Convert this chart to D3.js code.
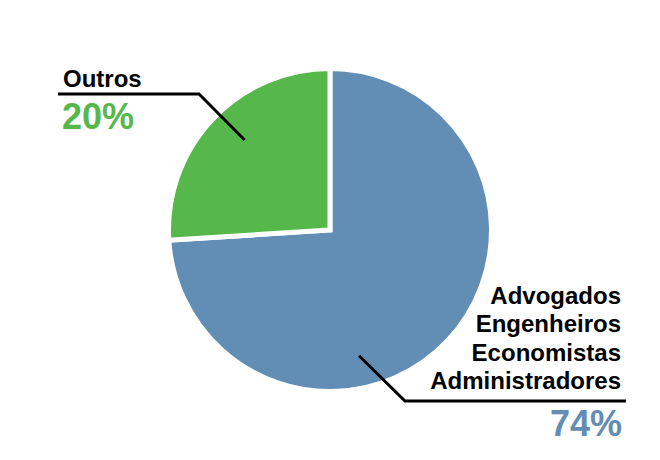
<!DOCTYPE html>
<html>
<head>
<meta charset="utf-8">
<script src="https://cdn.jsdelivr.net/npm/d3@7"></script>
<style>
  html, body { margin: 0; padding: 0; background: #fff; }
  svg { display: block; }
  text { font-family: "Liberation Sans", Arial, sans-serif; font-weight: bold; }
</style>
</head>
<body>
<div id="chart"></div>
<script>
// Data
const categories = ["Advogados, Engenheiros, Economistas, Administradores", "Outros"];
const values = [74, 26];
const valueLabels = ["74%", "20%"];
const nameLines = [["Advogados", "Engenheiros", "Economistas", "Administradores"], ["Outros"]];
const colors = ["#628DB4", "#56B84A"];

const width = 660, height = 460;
const cx = 330, cy = 230, radius = 161.5;

const svg = d3.select("#chart").append("svg")
  .attr("width", width).attr("height", height);

const g = svg.append("g").attr("transform", `translate(${cx},${cy})`);

const pie = d3.pie().sort(null).value(d => d)(values);
const arc = d3.arc().innerRadius(0).outerRadius(radius);

g.selectAll("path.slice").data(pie).enter().append("path")
  .attr("class", "slice")
  .attr("d", arc)
  .attr("fill", (d, i) => colors[i])
  .attr("stroke", "#fff")
  .attr("stroke-width", 5)
  .attr("stroke-linejoin", "miter");

const line = d3.line();
function anchorAt(deg, r) {
  const a = deg * Math.PI / 180;
  const c = d3.arc().innerRadius(r).outerRadius(r).centroid({startAngle: a, endAngle: a});
  return [cx + c[0], cy + c[1]];
}

// Outros (green)
svg.append("path")
  .attr("d", line([anchorAt(316.5, 124), [199, 94], [58, 94]]))
  .attr("fill", "none").attr("stroke", "#000").attr("stroke-width", 3);

svg.append("text").attr("x", 63).attr("y", 87)
  .attr("font-size", 24).attr("fill", "#000").text(nameLines[1][0]);
svg.append("text").attr("x", 62).attr("y", 129)
  .attr("font-size", 36).attr("fill", colors[1]).text(valueLabels[1]);

// Blue
svg.append("path")
  .attr("d", line([anchorAt(167, 129), [405, 401], [626, 401]]))
  .attr("fill", "none").attr("stroke", "#000").attr("stroke-width", 3);

const tb = svg.append("text").attr("text-anchor", "end")
  .attr("font-size", 24).attr("fill", "#000");
nameLines[0].forEach((t, i) => {
  tb.append("tspan").attr("x", 621).attr("y", 304 + i * 28.3).text(t);
});
svg.append("text").attr("x", 622).attr("y", 436).attr("text-anchor", "end")
  .attr("font-size", 36).attr("fill", colors[0]).text(valueLabels[0]);
</script>
</body>
</html>
